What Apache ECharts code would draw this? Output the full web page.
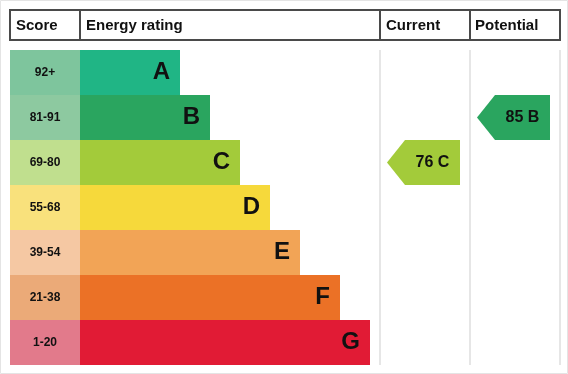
<!DOCTYPE html>
<html>
<head>
<meta charset="utf-8">
<script src="https://cdn.jsdelivr.net/npm/echarts@6/dist/echarts.min.js"></script>
<style>
html,body{margin:0;padding:0;background:#fff;}
#main{width:568px;height:374px;}
</style>
</head>
<body>
<div id="main"></div>
<script>
// Data
var bands = ['A', 'B', 'C', 'D', 'E', 'F', 'G'];
var scoreRanges = ['92+', '81-91', '69-80', '55-68', '39-54', '21-38', '1-20'];
var barLengths = [100, 130, 160, 190, 220, 260, 290];
var scoreColors = ['#7ec59d', '#8dc9a0', '#c0df8e', '#f9e17c', '#f5c8a3', '#ebaa78', '#e27a8b'];
var barColors = ['#20b585', '#2aa55f', '#a3cb3a', '#f6d93b', '#f2a456', '#eb7126', '#e11b35'];
var currentValue = 76, currentBand = 'C';
var potentialValue = 85, potentialBand = 'B';
var headers = ['Score', 'Energy rating', 'Current', 'Potential'];

var chart = echarts.init(document.getElementById('main'), null, {renderer: 'canvas'});
var FONT = '"Liberation Sans", Arial, sans-serif';
var scoreWidth = 70;

function arrowSeries(name, value, band, x0, x1) {
  return {
    type: 'custom',
    name: name,
    coordinateSystem: 'cartesian2d',
    data: [[x0, bands.indexOf(band), value, band, x1]],
    z: 5,
    renderItem: function (params, api) {
      var idx = api.value(1);
      var c = api.coord([api.value(0), idx]);
      var c1 = api.coord([api.value(4), idx]);
      var h = api.size([0, 1])[1];
      var top = c[1] - h / 2, bot = c[1] + h / 2;
      var tip = 18;
      var color = barColors[idx];
      return {
        type: 'group',
        children: [{
          type: 'polygon',
          shape: {points: [[c[0], c[1]], [c[0] + tip, top], [c1[0], top], [c1[0], bot], [c[0] + tip, bot]]},
          style: {fill: color}
        }, {
          type: 'text',
          style: {
            text: value + ' ' + band,
            x: (c[0] + tip + c1[0]) / 2,
            y: c[1],
            align: 'center',
            verticalAlign: 'middle',
            font: 'bold 16px ' + FONT,
            fill: '#111'
          }
        }]
      };
    }
  };
}

var option = {
  animation: false,
  grid: {left: 10, right: 8, top: 50, bottom: 9, containLabel: false},
  xAxis: {type: 'value', min: 0, max: 550, show: false},
  yAxis: {type: 'category', data: bands, inverse: true, show: false},
  graphic: [
    {type: 'rect', shape: {x: 0.5, y: 0.5, width: 567, height: 373}, style: {fill: 'none', stroke: '#e4e4e4', lineWidth: 1}, silent: true},
    {type: 'line', shape: {x1: 380, y1: 50, x2: 380, y2: 365}, style: {stroke: '#e6e6e6', lineWidth: 2}},
    {type: 'line', shape: {x1: 470, y1: 50, x2: 470, y2: 365}, style: {stroke: '#e6e6e6', lineWidth: 2}},
    {type: 'line', shape: {x1: 560, y1: 50, x2: 560, y2: 365}, style: {stroke: '#e6e6e6', lineWidth: 2}},
    {type: 'rect', shape: {x: 10, y: 10, width: 550, height: 30}, style: {fill: '#fff', stroke: '#4a4a4a', lineWidth: 2}},
    {type: 'line', shape: {x1: 80, y1: 10, x2: 80, y2: 40}, style: {stroke: '#4a4a4a', lineWidth: 2}},
    {type: 'line', shape: {x1: 380, y1: 10, x2: 380, y2: 40}, style: {stroke: '#4a4a4a', lineWidth: 2}},
    {type: 'line', shape: {x1: 470, y1: 10, x2: 470, y2: 40}, style: {stroke: '#4a4a4a', lineWidth: 2}},
    {type: 'text', style: {text: headers[0], x: 16, y: 26, verticalAlign: 'middle', font: 'bold 15px ' + FONT, fill: '#111'}},
    {type: 'text', style: {text: headers[1], x: 86, y: 26, verticalAlign: 'middle', font: 'bold 15px ' + FONT, fill: '#111'}},
    {type: 'text', style: {text: headers[2], x: 386, y: 26, verticalAlign: 'middle', font: 'bold 15px ' + FONT, fill: '#111'}},
    {type: 'text', style: {text: headers[3], x: 475, y: 26, verticalAlign: 'middle', font: 'bold 15px ' + FONT, fill: '#111'}}
  ],
  series: [
    {
      type: 'bar',
      stack: 'r',
      barWidth: '100%',
      data: scoreRanges.map(function (s, i) {
        return {value: scoreWidth, itemStyle: {color: scoreColors[i]}, label: {formatter: s}};
      }),
      label: {show: true, position: 'inside', fontFamily: FONT, fontWeight: 'bold', fontSize: 12, color: '#111'}
    },
    {
      type: 'bar',
      stack: 'r',
      barWidth: '100%',
      data: barLengths.map(function (v, i) {
        return {value: v, itemStyle: {color: barColors[i]}};
      }),
      label: {
        show: true, position: 'insideRight', distance: 10,
        formatter: function (p) { return bands[p.dataIndex]; },
        fontFamily: FONT, fontWeight: 'bold', fontSize: 24, color: '#111'
      }
    },
    arrowSeries('Current', currentValue, currentBand, 377, 450),
    arrowSeries('Potential', potentialValue, potentialBand, 467, 540)
  ]
};
chart.setOption(option);
</script>
</body>
</html>
